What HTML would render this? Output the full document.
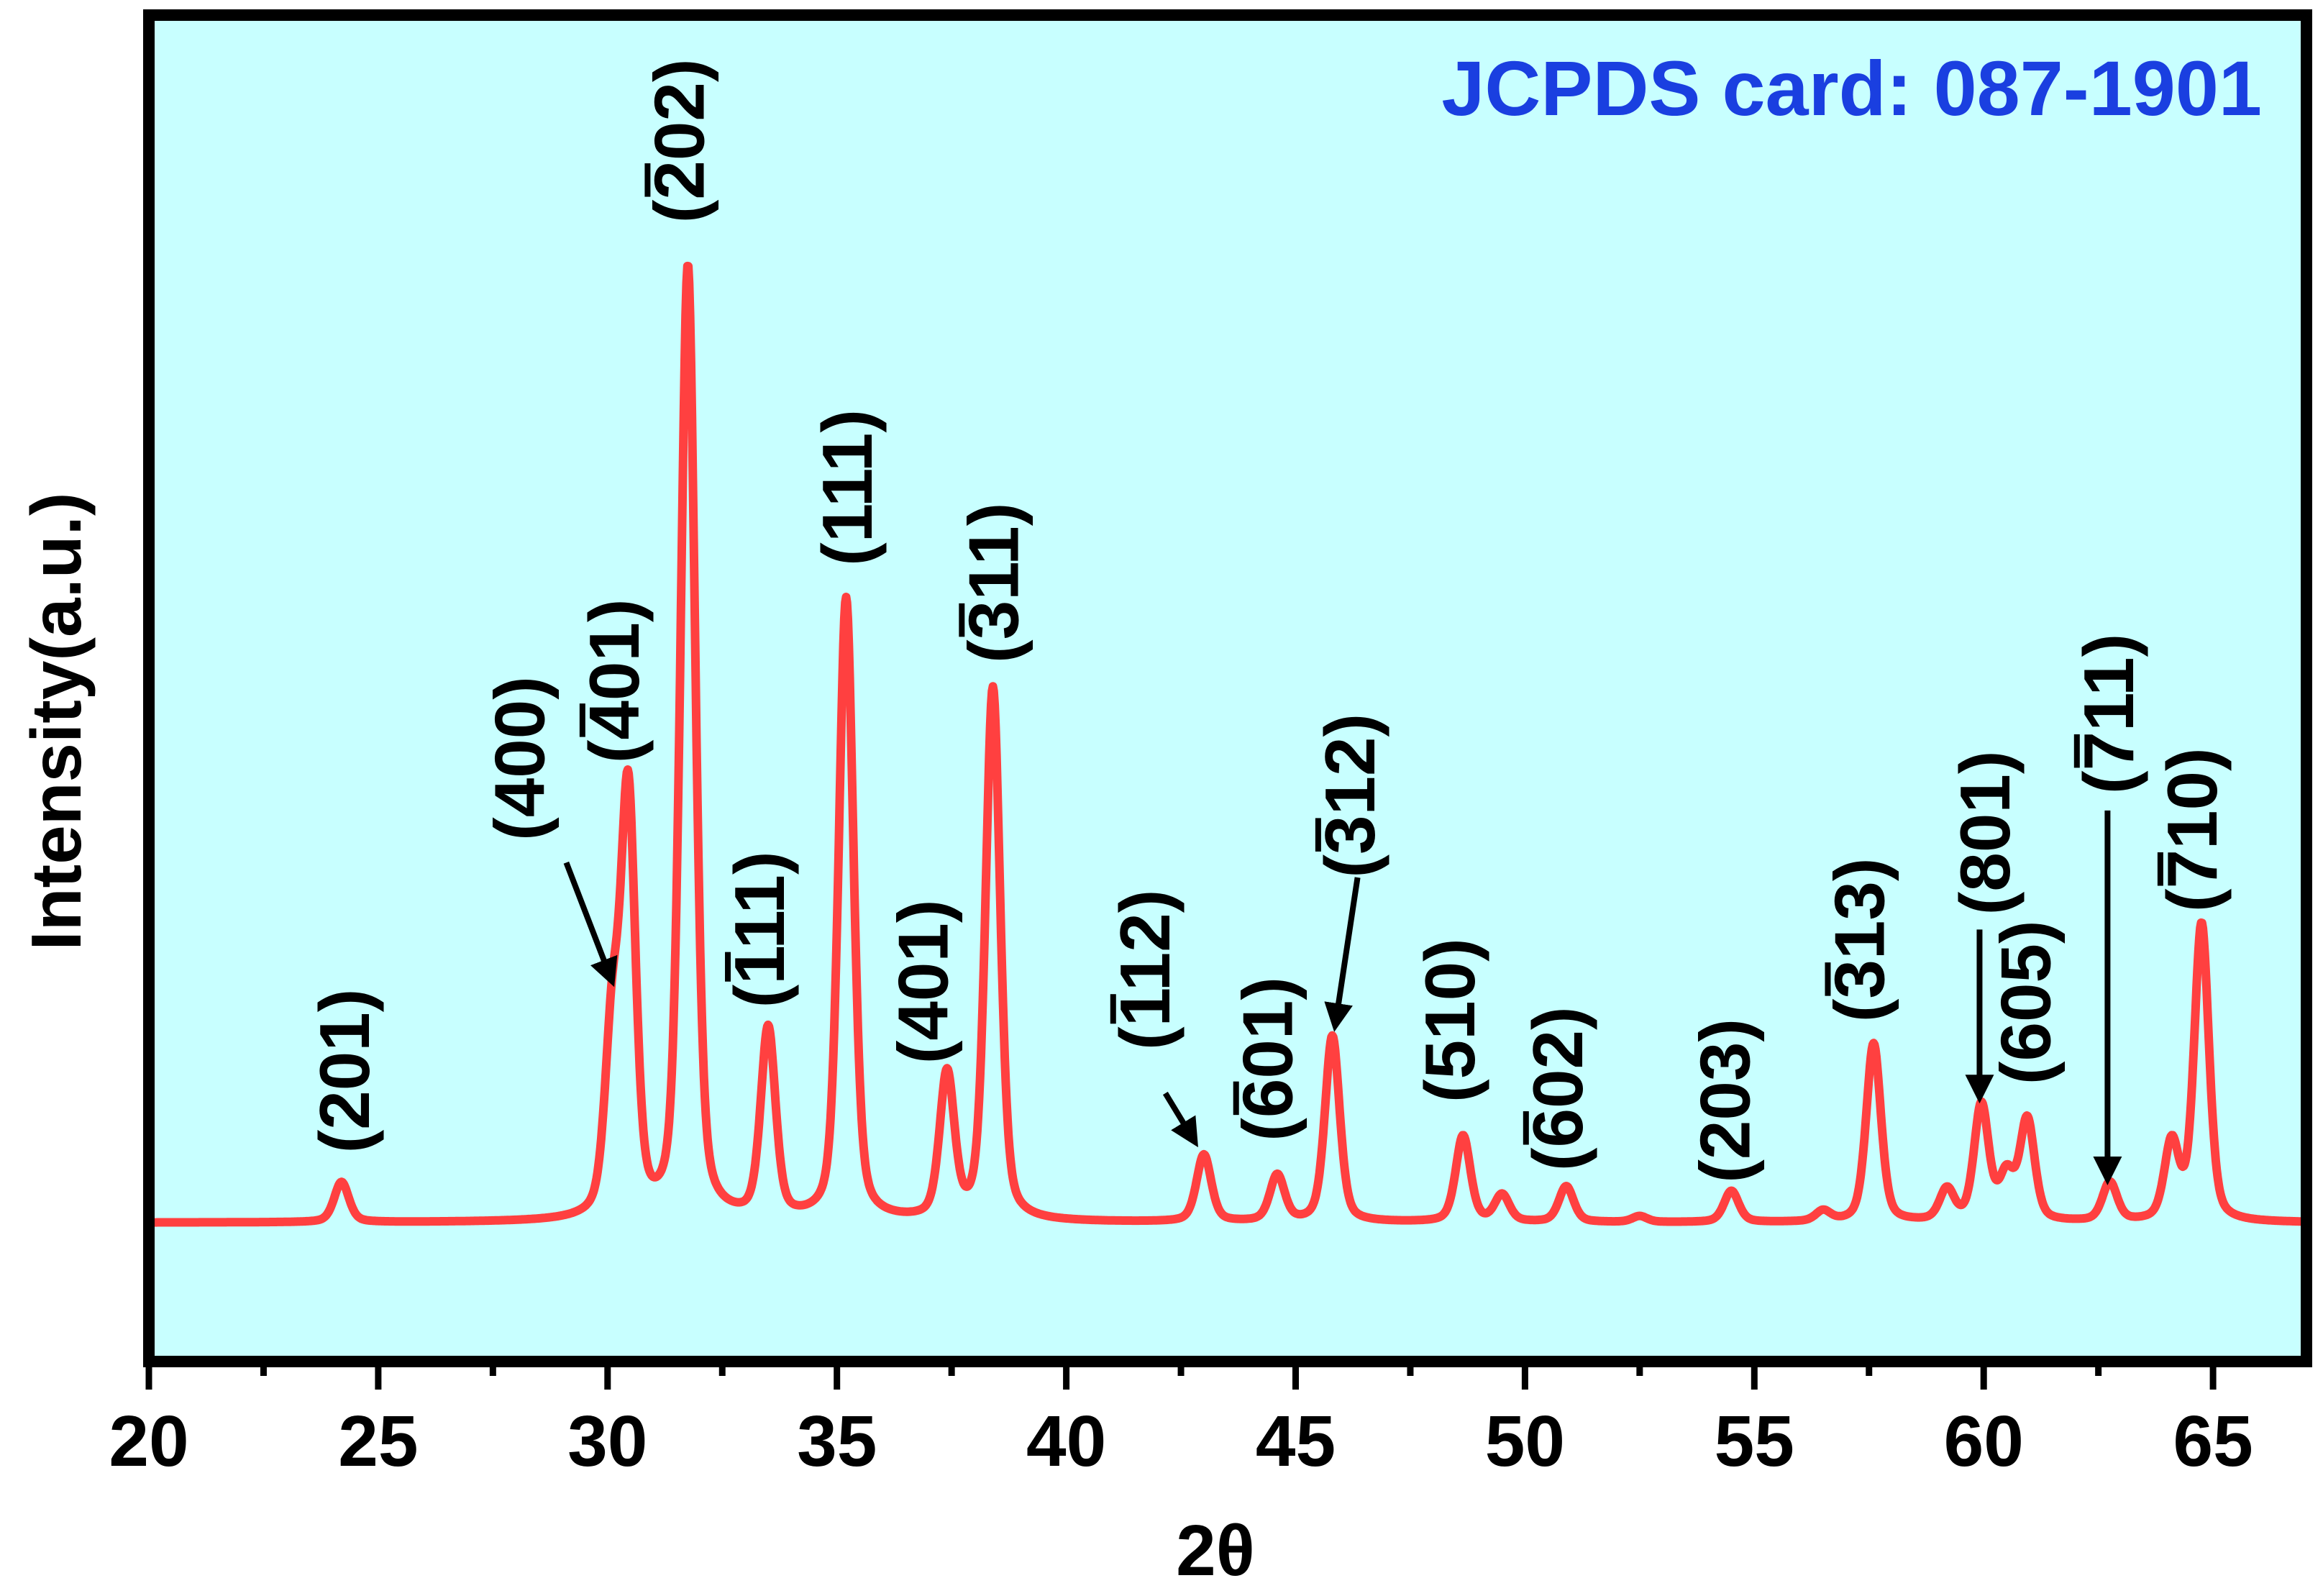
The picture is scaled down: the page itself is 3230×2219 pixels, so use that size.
<!DOCTYPE html>
<html><head><meta charset="utf-8"><style>
html,body{margin:0;padding:0;background:#fff;}
svg{display:block;}
text{font-family:"Liberation Sans",Arial,sans-serif;font-weight:bold;}
</style></head><body>
<svg id="chart" width="3230" height="2219" viewBox="0 0 3230 2219" xmlns="http://www.w3.org/2000/svg">
<defs><marker id="ah" markerWidth="5" markerHeight="5" refX="4" refY="2.5" orient="auto" markerUnits="strokeWidth"><path d="M0,0 L5,2.5 L0,5 Z" fill="#000"/></marker></defs>
<rect x="207" y="21" width="3000" height="1872" fill="#c8ffff"/>
<g id="ticks"></g>
<g id="series"></g>
<g id="labels"></g>
<rect x="207" y="21" width="3000" height="1872" fill="none" stroke="#000" stroke-width="16"/>
<text x="3145" y="160" font-size="108" fill="#1a3fe0" text-anchor="end">JCPDS card: 087-1901</text>
<text x="1690" y="2190" font-size="100" text-anchor="middle">2θ</text>
<text transform="translate(112,1003) rotate(-90)" font-size="98" text-anchor="middle">Intensity(a.u.)</text>
</svg>
<script>
// data
const xTicks = [20,25,30,35,40,45,50,55,60,65];
const peakPos = [24.2,30.1,30.45,31.75,33.5,35.2,37.4,38.4,43.0,44.6,45.8,48.65,49.5,50.9,52.5,54.5,56.5,57.6,59.2,59.95,60.5,60.95,62.75,64.1,64.75];
const peakHeight = [27,120,280,640,127,418,97,358,45,31,125,58,18,24,4,21,7,120,21,78,30,68,26,52,200];
const labelText = ["(201)","(400)","(^401)","(^202)","(^111)","(111)","(401)","(^311)","(^112)","(^601)","(^312)","(510)","(^602)","(203)","(^313)","(801)","(605)","(^711)","(^710)"];
const labelX = [24.45,28.27,30.33,31.75,33.5,35.41,37.07,38.6,41.9,44.58,46.37,48.55,50.9,54.55,57.48,60.22,61.1,62.91,64.73];
const labelY = [102,312,364,727,197,494,162,430,170,110,287,136,90,82,190,262,148,342,264];
const arrows = [[29.1,242,30.1,162],[42.16,87,42.81,54],[46.35,232,45.86,132],[59.91,197,59.91,84],[62.7,277,62.7,29]];

const NS="http://www.w3.org/2000/svg";
const X = t => 207 + (t-20)*63.78;
const Y = v => 1700 - v*2.069;
function mk(tag, attrs, parent){const e=document.createElementNS(NS,tag);for(const k in attrs)e.setAttribute(k,attrs[k]);parent.appendChild(e);return e;}

const tg=document.getElementById('ticks');
for(let t=20;t<=67;t+=2.5){
  const major = Math.abs(t%5)<1e-6;
  const l=mk('line',{x1:X(t),x2:X(t),y1:1893,y2:major?1932:1913,stroke:'#000','stroke-width':9},tg);
  
  
}
xTicks.forEach(t=>{
  const e=mk('text',{x:X(t),y:2038,'font-size':100,'text-anchor':'middle'},tg);
  e.textContent=t;
  
  
});

const sg=document.getElementById('series');
let d='';
for(let t=20;t<=67;t+=0.02){
  let v=0;
  for(let i=0;i<peakPos.length;i++){
    const w=0.19; const dx=(t-peakPos[i])/w;
    v+=peakHeight[i]*(0.6*Math.exp(-0.693*dx*dx)+0.4/(1+dx*dx));
  }
  d+=(d?'L':'M')+X(t).toFixed(1)+','+Y(v).toFixed(1);
}
const p=mk('path',{d:d,fill:'none',stroke:'#ff4040','stroke-width':12,'stroke-linejoin':'round'},sg);



const lg=document.getElementById('labels');
labelText.forEach((s,i)=>{
  const g=mk('g',{transform:`translate(${X(labelX[i])+22},${Y(labelY[i])}) rotate(-90)`},lg);
  
  
  const bar = s.indexOf('^')>=0;
  const txt = s.replace('^','');
  const e=mk('text',{x:0,y:0,'font-size':98,'text-anchor':'middle'},g);
  e.textContent=txt;
  if(bar){
    const total=e.getComputedTextLength();
    const x0=-total/2+e.getSubStringLength(0,1);
    const w=e.getSubStringLength(1,1);
    const ol=mk('rect',{x:x0+4,y:-82,width:w-8,height:8,fill:'#000'},g);
    
    
  }
});
arrows.forEach(a=>{
  const l=mk('line',{x1:X(a[0]),y1:Y(a[1]),x2:X(a[2]),y2:Y(a[3]),stroke:'#000','stroke-width':8,'marker-end':'url(#ah)'},lg);
  
  
});
</script>
</body></html>
